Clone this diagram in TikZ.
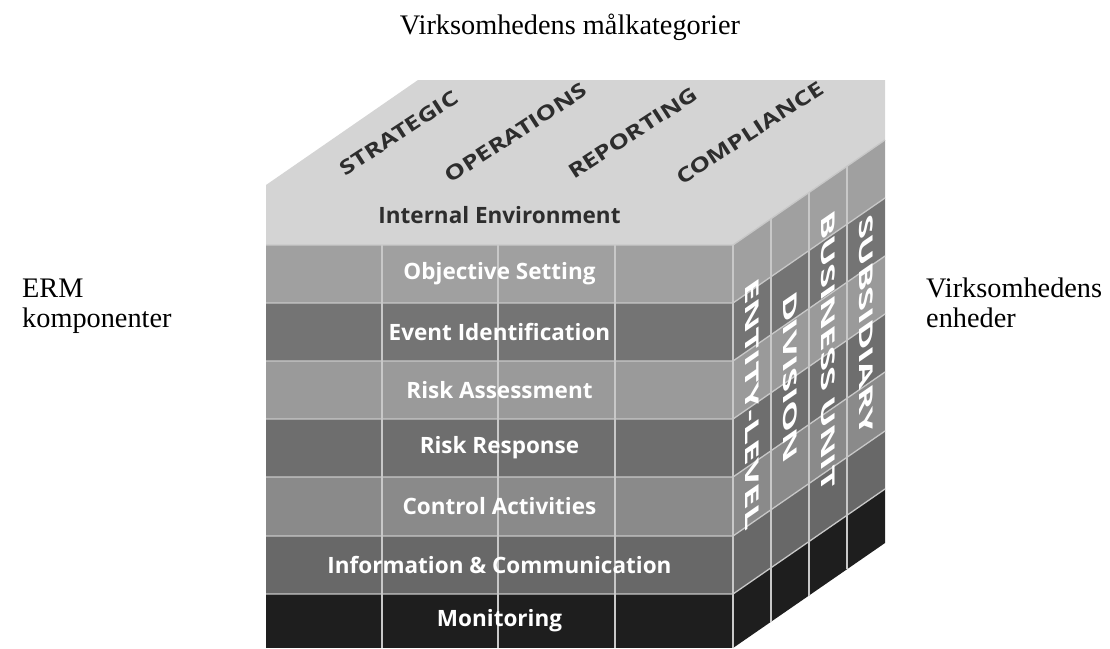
\documentclass[tikz,border=0pt]{standalone}
\usepackage{fontspec}
\setmainfont{Liberation Serif}
\newfontfamily\cubefont{Open Sans}
\definecolor{topgray}{RGB}{212,212,212}
\definecolor{linegray}{RGB}{200,200,200}
\definecolor{textgray}{RGB}{45,45,45}
\definecolor{toneA}{RGB}{160,160,160}
\definecolor{toneB}{RGB}{116,116,116}
\definecolor{toneC}{RGB}{154,154,154}
\definecolor{toneD}{RGB}{110,110,110}
\definecolor{toneE}{RGB}{138,138,138}
\definecolor{toneF}{RGB}{104,104,104}
\definecolor{toneG}{RGB}{30,30,30}
\tikzset{
  gridline/.style={draw=linegray,line width=1.3pt},
  rowlabel/.style={font=\cubefont\bfseries\fontsize{22.5}{22.5}\selectfont,text=white,inner sep=0pt},
  toplabel/.style={font=\cubefont\bfseries\fontsize{20}{20}\selectfont,text=textgray,inner sep=0pt,cm={1.09,0.708,-0.545,0.839,(0,0)}},
  sidelabel/.style={font=\cubefont\bfseries\fontsize{23}{23}\selectfont,text=white,inner sep=0pt,cm={0,-1.6,0.823,0.568,(0,0)}},
  caption/.style={font=\fontsize{28.3}{30}\selectfont,inner sep=0pt,align=left}
}
\begin{document}
\begin{tikzpicture}[x=1pt,y=-1pt]
\useasboundingbox (0,0) rectangle (1110,648);
\fill[topgray] (266,185) -- (418,80) -- (885,80) -- (885,140) -- (733,245) -- (266,245) -- cycle;
\foreach \ya/\yb/\tone/\txt [count=\i] in {245/303/toneA/Objective Setting,303/361/toneB/Event Identification,361/419/toneC/Risk Assessment,419/477/toneD/Risk Response,477/536/toneE/Control Activities,536/594/toneF/Information \& Communication,594/648/toneG/Monitoring}
{
\fill[\tone] (266,\ya) rectangle (733,\yb);
\fill[\tone] (733,\ya) -- (885,\ya-105) -- (885,\yb-105) -- (733,\yb) -- cycle;
}
\foreach \y in {245,303,361,419,477,536,594}
\draw[gridline] (266,\y) -- (733,\y) -- (885,\y-105);
\foreach \x in {382,498,615,733}
\draw[gridline] (\x,245) -- (\x,648);
\foreach \x in {771,809,847}
\draw[gridline] (\x,{245-(\x-733)*105/152}) -- (\x,{648-(\x-733)*105/152});
\node[rowlabel,text=textgray] (comp0) at (499.5,215) {Internal Environment};
\foreach \ya/\yb/\tone/\txt [count=\i] in {245/303/toneA/Objective Setting,303/361/toneB/Event Identification,361/419/toneC/Risk Assessment,419/477/toneD/Risk Response,477/536/toneE/Control Activities,536/594/toneF/Information \& Communication,594/648/toneG/Monitoring}
\node[rowlabel] (comp\i) at (499.5,{(\ya+\yb)/2}) {\txt};
\foreach \x/\txt [count=\i] in {324/STRATEGIC,441/OPERATIONS,558/REPORTING,675/COMPLIANCE}
\node[toplabel] (goal\i) at (\x+75,133) {\txt};
\foreach \x/\txt [count=\i] in {752/ENTITY-LEVEL,790/DIVISION,828/BUSINESS UNIT,866/SUBSIDIARY}
\node[sidelabel] (unit\i) at (\x,{417-(\x-733)*105/152}) {\txt};
\node[caption,anchor=base] (goals) at (570,34) {Virksomhedens målkategorier};
\node[caption,anchor=base west] (erm) at (22,327) {ERM\\komponenter};
\node[caption,anchor=base west] (units) at (926,327) {Virksomhedens\\enheder};
\end{tikzpicture}
\end{document}
